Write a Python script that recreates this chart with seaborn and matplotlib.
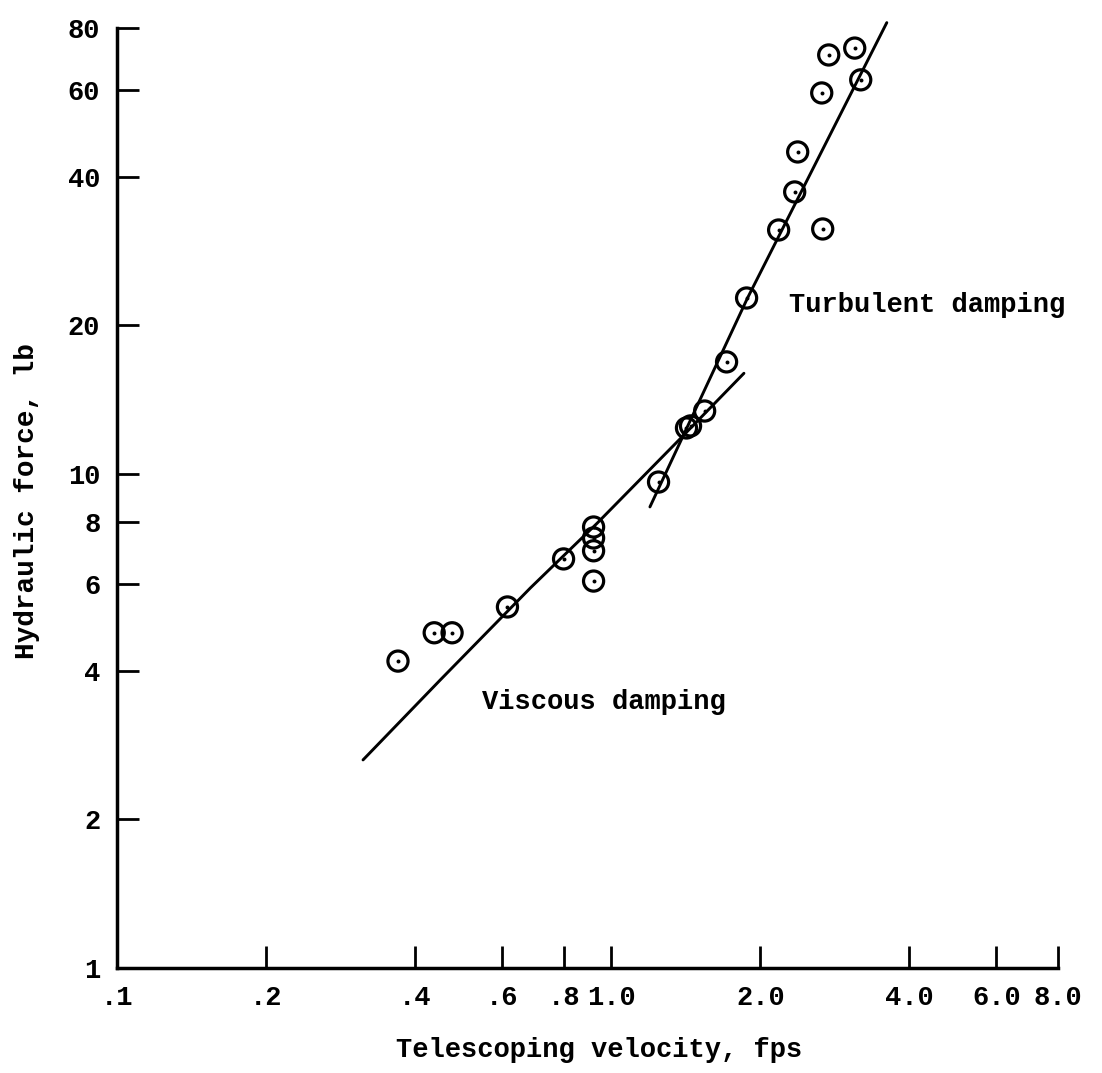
import numpy as np
import matplotlib
matplotlib.use("Agg")
import matplotlib.pyplot as plt
import seaborn as sns
import pandas as pd

# measured points (velocity fps, force lb)
velocity = [0.370, 0.438, 0.476, 0.616, 0.800, 0.920, 0.920, 0.920, 0.920,
            1.245, 1.418, 1.445, 1.543, 1.709, 1.876, 2.178, 2.347, 2.380,
            2.674, 2.662, 2.750, 3.104, 3.192]
force = [4.18, 4.77, 4.77, 5.38, 6.73, 7.81, 7.42, 6.99, 6.07,
         9.63, 12.39, 12.51, 13.41, 16.86, 22.71, 31.18, 37.23, 44.86,
         31.33, 59.06, 70.5, 72.8, 62.78]

# faired curves
visc_x = [0.3144, 0.4507, 0.6856, 0.9355, 1.380, 1.853]
visc_y = [2.637, 3.83, 5.88, 7.95, 11.81, 15.99]
turb_x = [1.196, 1.883, 3.604]
turb_y = [8.576, 22.68, 81.97]

xticks = [0.1, 0.2, 0.4, 0.6, 0.8, 1.0, 2.0, 4.0, 6.0, 8.0]
xticklabels = [".1", ".2", ".4", ".6", ".8", "1.0", "2.0", "4.0", "6.0", "8.0"]
yticks = [1, 2, 4, 6, 8, 10, 20, 40, 60, 80]
yticklabels = ["1", "2", "4", "6", "8", "10", "20", "40", "60", "80"]

pts = pd.DataFrame({"v": velocity, "f": force})

sns.set_style("ticks")
plt.rcParams["font.family"] = ["Liberation Mono", "DejaVu Sans Mono"]
plt.rcParams["font.size"] = 19.5
plt.rcParams["font.weight"] = "bold"
plt.rcParams["text.color"] = "black"
plt.rcParams["axes.labelcolor"] = "black"
plt.rcParams["axes.edgecolor"] = "black"
plt.rcParams["xtick.color"] = "black"
plt.rcParams["ytick.color"] = "black"
plt.rcParams["axes.labelweight"] = "bold"

fig = plt.figure(figsize=(11.02, 10.73), dpi=100)
ax = fig.add_axes([0.1062, 0.0979, 0.8539, 0.8997])
ax.set_xscale("log")
ax.set_yscale("log")

sns.lineplot(x=visc_x, y=visc_y, sort=False, estimator=None, color="black", lw=2.1, ax=ax)
sns.lineplot(x=turb_x, y=turb_y, sort=False, estimator=None, color="black", lw=2.1, ax=ax)
sns.scatterplot(data=pts, x="v", y="f", s=210, facecolor="none", edgecolor="black",
                linewidth=2.3, ax=ax, zorder=3)
sns.scatterplot(data=pts, x="v", y="f", s=8, color="black", linewidth=0, ax=ax, zorder=4)

ax.set_xlim(0.1, 8.0)
ax.set_ylim(1, 90)
ax.spines["top"].set_visible(False)
ax.spines["right"].set_visible(False)
ax.spines["left"].set_bounds(1, 80)
ax.spines["left"].set_linewidth(2.5)
ax.spines["bottom"].set_linewidth(2.5)

ax.minorticks_off()
ax.set_xticks(xticks)
ax.set_xticklabels(xticklabels)
ax.set_yticks(yticks)
ax.set_yticklabels(yticklabels)
ax.tick_params(axis="both", which="major", direction="in", length=16, width=2.0,
               labelsize=19.5, color="black")
ax.tick_params(axis="x", pad=12)
ax.tick_params(axis="y", pad=12)
ax.tick_params(which="minor", length=0)

ax.set_xlabel("Telescoping velocity, fps", fontsize=19.5)
ax.set_ylabel("Hydraulic force, lb", fontsize=20)
ax.xaxis.set_label_coords(0.512, -0.072)
ax.yaxis.set_label_coords(-0.082, 0.484)

ax.text(2.282, 21.98, "Turbulent damping", fontsize=19.5, va="center", ha="left")
ax.text(0.548, 3.456, "Viscous damping", fontsize=19.5, va="center", ha="left")

fig.savefig("out.png", dpi=100)
